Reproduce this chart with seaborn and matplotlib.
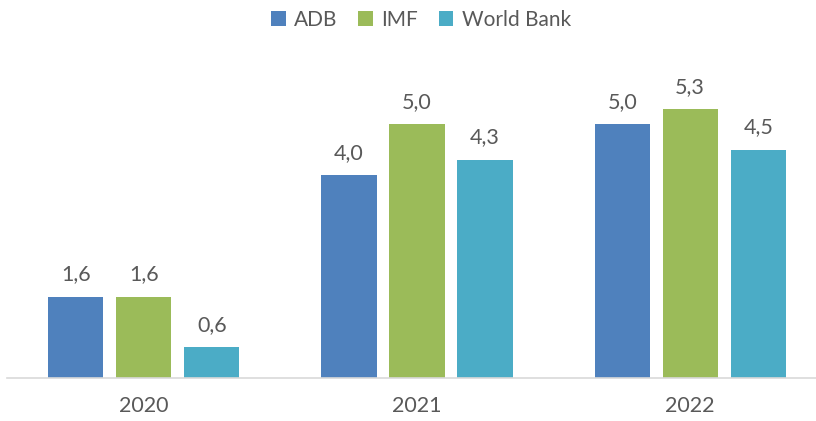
import matplotlib
matplotlib.use('Agg')
import matplotlib.pyplot as plt
from matplotlib.patches import Patch
import seaborn as sns
import pandas as pd

years = ['2020', '2021', '2022']
sources = ['ADB', 'IMF', 'World Bank']
adb = [1.6, 4.0, 5.0]
imf = [1.6, 5.0, 5.3]
world_bank = [0.6, 4.3, 4.5]
colors = ['#4F81BD', '#9BBB59', '#4BACC6']


def main():
    sns.set_style('white')
    plt.rcParams['font.family'] = ['Lato', 'DejaVu Sans']
    txt = '#595959'

    df = pd.DataFrame({
        'year': years * 3,
        'source': [s for s in sources for _ in years],
        'value': adb + imf + world_bank,
    })

    fig = plt.figure(figsize=(8.16, 4.21), dpi=100)
    ax = fig.add_axes([7.2 / 816, 43.3 / 421, 819.6 / 816, 329.2 / 421])

    sns.barplot(data=df, x='year', y='value', hue='source', hue_order=sources,
                palette=colors, saturation=1, width=0.747, gap=0.19, linewidth=0,
                legend=False, ax=ax)

    for cont in ax.containers:
        labels = ['{:.1f}'.format(v.get_height()).replace('.', ',') for v in cont]
        ax.bar_label(cont, labels=labels, padding=9, fontsize=15.5, color=txt)

    ax.set_xlim(-0.5, 2.5)
    ax.set_ylim(0, 6.5)
    ax.set_xlabel('')
    ax.set_ylabel('')
    ax.set_yticks([])
    for s in ['left', 'right', 'top']:
        ax.spines[s].set_visible(False)
    ax.spines['bottom'].set_color('#D9D9D9')
    ax.spines['bottom'].set_linewidth(1.2)
    ax.tick_params(axis='x', length=0, pad=13, labelsize=15.5, labelcolor=txt)

    handles = [Patch(facecolor=c, edgecolor='none') for c in colors]
    fig.legend(handles, sources, loc='center', bbox_to_anchor=(0.516, 1 - 20 / 421),
               ncol=3, frameon=False, fontsize=15, labelcolor=txt,
               handlelength=0.7, handleheight=0.7, handletextpad=0.4,
               columnspacing=1.0, borderaxespad=0)

    fig.savefig('out.png', dpi=100)


if __name__ == '__main__':
    main()
